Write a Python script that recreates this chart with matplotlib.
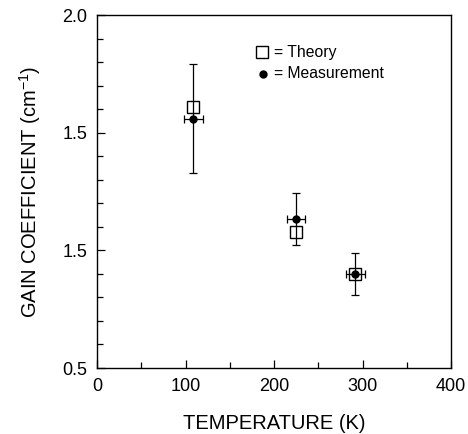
import matplotlib.pyplot as plt
from matplotlib.ticker import MultipleLocator

plt.rcParams['font.family'] = ['Liberation Sans', 'DejaVu Sans']
plt.rcParams['mathtext.fontset'] = 'custom'
plt.rcParams['mathtext.rm'] = 'Liberation Sans'

# data
temps = [109, 225, 292]
theory = [1.61, 1.076, 0.90]
measured = [1.56, 1.133, 0.90]
meas_yerr = [0.23, 0.11, 0.09]
meas_xerr = [10.5, 10.5, 10.5]

ytick_pos = [0.5, 1.0, 1.5, 2.0]
ytick_labels = ['0.5', '1.5', '1.5', '2.0']
xtick_pos = [0, 100, 200, 300, 400]

fig = plt.figure(figsize=(4.68, 4.34), dpi=100)
ax = fig.add_axes([0.2073, 0.152, 0.7564, 0.8134])

ax.plot(temps, theory, 's', mfc='white', mec='black', mew=1.0, ms=8, zorder=3)
ax.errorbar(temps, measured, yerr=meas_yerr, xerr=meas_xerr, fmt='o',
            color='black', ms=5, elinewidth=0.9, capsize=3, capthick=0.9, zorder=4)

# legend written as text, like the original
ax.plot([0.465], [0.895], 's', mfc='white', mec='black', mew=1.0, ms=8,
        transform=ax.transAxes, clip_on=False)
ax.plot([0.468], [0.833], 'o', color='black', ms=5,
        transform=ax.transAxes, clip_on=False)
ax.text(0.50, 0.895, '= Theory', transform=ax.transAxes, fontsize=11.3, va='center')
ax.text(0.50, 0.833, '= Measurement', transform=ax.transAxes, fontsize=11.3, va='center')

ax.set_xlim(0, 400)
ax.set_ylim(0.5, 2.0)
ax.set_xticks(xtick_pos)
ax.xaxis.set_minor_locator(MultipleLocator(50))
ax.set_yticks(ytick_pos)
ax.set_yticklabels(ytick_labels)
ax.yaxis.set_minor_locator(MultipleLocator(0.1))
ax.tick_params(which='both', direction='in', top=False, right=False,
               labelsize=13, width=0.9, pad=7)
ax.tick_params(which='major', length=6)
ax.tick_params(which='minor', length=4)
for s in ax.spines.values():
    s.set_linewidth(1.0)

ax.set_xlabel('TEMPERATURE (K)', fontsize=14.5, labelpad=14)
ax.set_ylabel('GAIN COEFFICIENT (cm$^{-1}$)', fontsize=14.5, labelpad=14)

fig.savefig('out.png', dpi=100)
